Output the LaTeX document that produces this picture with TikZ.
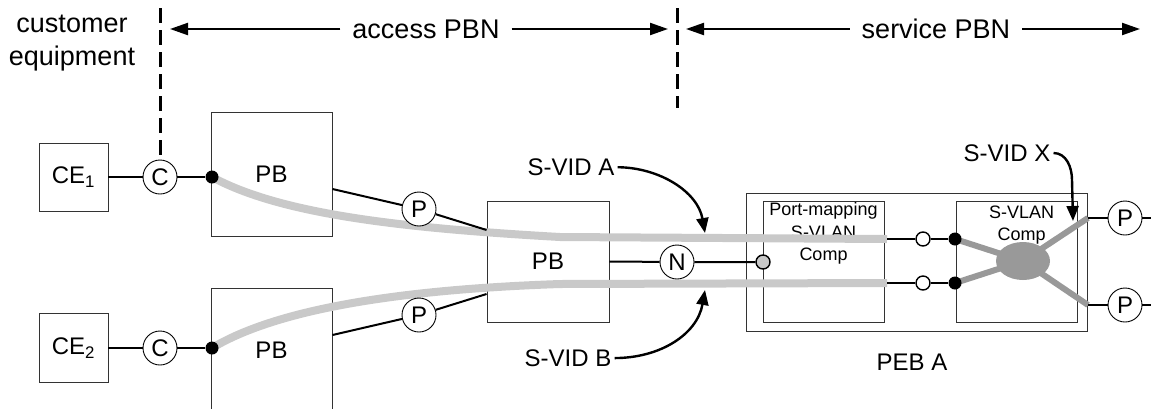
\documentclass[tikz,border=0pt]{standalone}
\usepackage{fontspec}
\setmainfont{Liberation Sans}
\usetikzlibrary{arrows.meta,positioning,calc}
\definecolor{lgray}{rgb}{0.79,0.79,0.79}
\definecolor{dgray}{rgb}{0.6,0.6,0.6}

\begin{document}
\begin{tikzpicture}[x=1pt,y=1pt,yscale=-1,xscale=1,
	box/.style={draw=black!80,line width=0.9pt,inner sep=0pt,font=\fontsize{24}{28}\selectfont},
	port/.style={draw,circle,fill=white,line width=0.9pt,minimum size=34pt,inner sep=0pt,font=\fontsize{24}{28}\selectfont},
	bdot/.style={circle,fill=black,minimum size=13pt,inner sep=0pt},
	wdot/.style={circle,draw,fill=white,line width=1.4pt,minimum size=14pt,inner sep=0pt},
	link/.style={line width=2pt},
	tunnel/.style={line width=8pt,color=lgray},
	relay/.style={line width=6pt,color=dgray,line join=round},
	fence/.style={line width=3pt,dash pattern=on 15pt off 7pt},
	scope arrow/.style={line width=2.2pt,-{Triangle[length=18pt,width=12pt]}},
	vid arrow/.style={line width=2.4pt,-{Triangle[length=15pt,width=12pt]}},
	toplabel/.style={font=\fontsize{27}{33}\selectfont,align=center,inner sep=12pt},
	vidlabel/.style={font=\fontsize{24}{28}\selectfont,inner sep=3pt},
	complabel/.style={font=\fontsize{18}{22.5}\selectfont,align=center,inner sep=2pt}
	]
	\useasboundingbox (0,0) rectangle (1151,408);
	
	%Shape: boxes
	\node[box,minimum width=69pt,minimum height=68pt] (ce1) at (73.5,177) {CE\textsubscript{1}};
	\node[box,minimum width=69pt,minimum height=69pt] (ce2) at (73.5,348) {CE\textsubscript{2}};
	\node[box,minimum width=121pt,minimum height=124pt] (pb1) at (271.5,174) {PB};
	\node[box,minimum width=121pt,minimum height=124pt] (pb2) at (271.5,350) {PB};
	\node[box,minimum width=122pt,minimum height=121pt] (pb3) at (548,261.5) {PB};
	\node[box,minimum width=341pt,minimum height=138pt] (peb) at (916.5,262) {};
	\node[box,minimum width=121pt,minimum height=121pt] (pm) at (823.5,261.5) {};
	\node[box,minimum width=121pt,minimum height=121pt] (sv) at (1016.5,261.5) {};
	
	% Text Node
	\node[complabel,anchor=north] (pmlbl) at (pm.north) {Port-mapping\\S-VLAN\\Comp};
	\node[complabel,anchor=north] (svlbl) at ($(sv.north)+(5,3)$) {S-VLAN\\Comp};
	\node[vidlabel] (peblbl) at (912,362) {PEB A};
	
	% points
	\coordinate (a1) at (212,177);
	\coordinate (a2) at (212,348);
	\coordinate (e1) at (887,239);
	\coordinate (e2) at (887,283);
	\coordinate (k1) at (955,239);
	\coordinate (k2) at (955,283);
	\coordinate (xc) at (1023,261);
	\coordinate (t1) at (1088,218);
	\coordinate (t2) at (1088,305);
	\coordinate (r1) at (1160,218);
	\coordinate (r2) at (1160,305);
	
	%Straight Lines: service instances
	\draw[tunnel] (a1) .. controls (280,214) and (400,228) .. (560,237) -- (e1);
	\draw[tunnel] (a2) .. controls (272,312) and (385,290) .. (560,284) -- (e2);
	\draw[relay] (k1) -- (xc) -- (t1);
	\draw[relay] (k2) -- (xc) -- (t2);
	\fill[dgray] (xc) ellipse [x radius=27pt,y radius=19pt];
	
	%Shape: ports
	\node[port] (c1) at (160,177) {C};
	\node[port] (c2) at (160,348) {C};
	\node[bdot] (d1) at (a1) {};
	\node[bdot] (d2) at (a2) {};
	\node[port] (p1) at (419,209) {P};
	\node[port] (p2) at (419,315) {P};
	\node[port] (n) at (677,262) {N};
	\node[wdot,fill=lgray] (g) at (763,262) {};
	\node[wdot] (o1) at (923,239) {};
	\node[wdot] (o2) at (923,283) {};
	\node[bdot] (b1) at (k1) {};
	\node[bdot] (b2) at (k2) {};
	\node[port] (pr1) at (1125,218) {P};
	\node[port] (pr2) at (1125,305) {P};
	
	%Straight Lines: links
	\draw[link] (ce1) -- (c1) -- (d1);
	\draw[link] (ce2) -- (c2) -- (d2);
	\draw[link] ($(pb1.east)+(0,15)$) -- (p1) -- ($(pb3.west)+(0,-31.5)$);
	\draw[link] ($(pb2.east)+(0,-15)$) -- (p2) -- ($(pb3.west)+(0,32.5)$);
	\draw[link] (pb3.east) -- (n) -- (g);
	\draw[link] (e1) -- (o1) -- (b1);
	\draw[link] (e2) -- (o2) -- (b2);
	\draw[link] (t1) -- (pr1) -- (r1);
	\draw[link] (t2) -- (pr2) -- (r2);
	
	% Text Node
	\node[toplabel] (cust) at (72,43.5) {customer\\equipment};
	\node[toplabel] (acc) at (426,29) {access PBN};
	\node[toplabel] (svc) at (936,29) {service PBN};
	\coordinate (fa) at (160,8);
	\coordinate (fc) at (677,8);
	\coordinate (fd) at (677,108);
	\coordinate (ha) at (170,29);
	\coordinate (hb) at (668,29);
	\coordinate (hc) at (686,29);
	\coordinate (hd) at (1140,29);
	\draw[fence] (fa) -- (c1.north);
	\draw[fence] (fc) -- (fd);
	\draw[scope arrow] (acc) -- (ha);
	\draw[scope arrow] (acc) -- (hb);
	\draw[scope arrow] (svc) -- (hc);
	\draw[scope arrow] (svc) -- (hd);
	
	% Text Node
	\node[vidlabel] (sa) at (571,167) {S-VID A};
	\node[vidlabel] (sb) at (568,358) {S-VID B};
	\node[vidlabel] (sx) at (1007,153) {S-VID X};
	\coordinate (ta) at (705,233);
	\coordinate (tb) at (705,290);
	\coordinate (bx) at (1072,180);
	\coordinate (tx) at (1073,221);
	\draw[vid arrow] (sa) to[out=-5,in=-100] (ta);
	\draw[vid arrow] (sb) to[out=-5,in=100] (tb);
	\draw[vid arrow] (sx) to[out=0,in=-90] (bx) -- (tx);
	
\end{tikzpicture}
\end{document}
